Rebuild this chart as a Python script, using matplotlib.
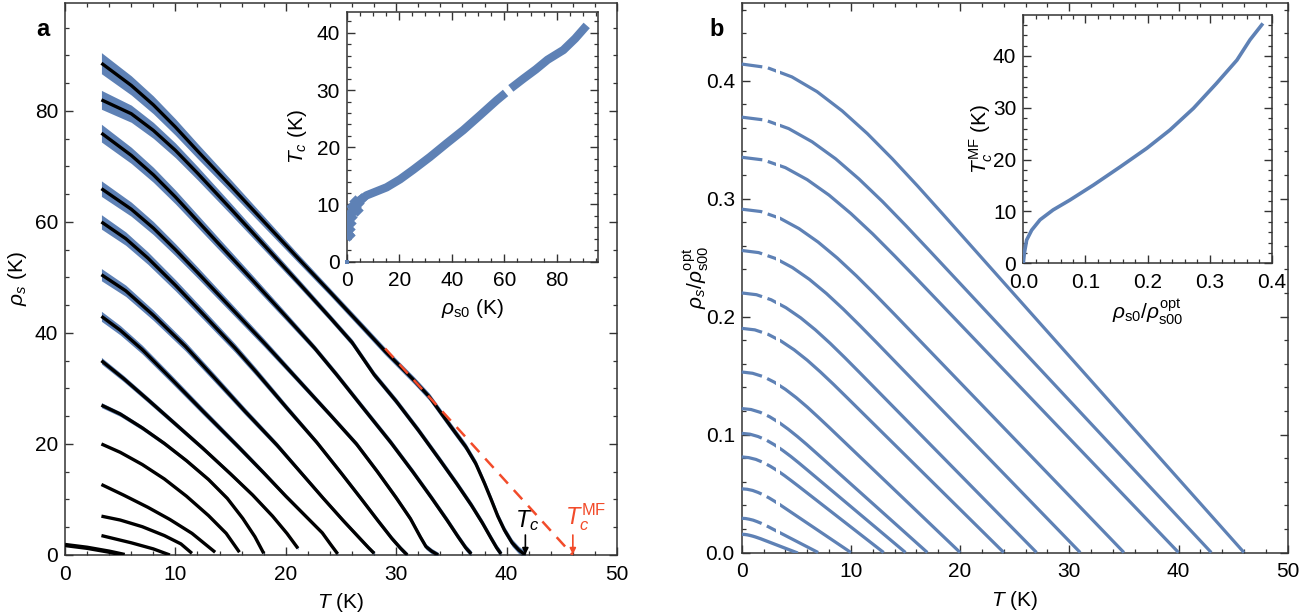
import numpy as np
import matplotlib
matplotlib.use('Agg')
import matplotlib.pyplot as plt
from matplotlib.patches import Rectangle
from matplotlib.ticker import MultipleLocator

plt.rcParams['font.family'] = ['Liberation Sans', 'DejaVu Sans']
plt.rcParams['mathtext.fontset'] = 'custom'
plt.rcParams['mathtext.rm'] = 'Liberation Sans'
plt.rcParams['mathtext.it'] = 'Liberation Sans:italic'
plt.rcParams['mathtext.bf'] = 'Liberation Sans:bold'

BLUE = '#5E81B5'
RED = '#F24B2A'
SPINE = '#333333'

# ---------------- Panel a data: rho_s(T) curves ----------------
a_T = [
    [3.3, 6, 8, 10, 12, 15, 18, 21, 24, 27, 29, 31.6, 33, 35, 36.3, 37.2, 38, 38.6, 39.2, 39.8, 40.5, 41.1, 41.7],
    [3.3, 6, 8, 10, 12, 15, 18, 21, 24, 26, 28, 30, 32, 34, 35.5, 36.8, 37.8, 38.6, 39.1, 39.5],
    [3.3, 6, 8, 10, 12, 14, 17, 20, 22.6, 24.6, 27, 29.5, 31.5, 33.2, 34.6, 35.6, 36.3, 36.8],
    [3.3, 6, 8, 10, 12, 15, 18, 21, 24, 26.4, 28.3, 30, 31.3, 32.2, 32.7, 33.2, 33.8],
    [3.3, 5.5, 7.5, 10, 12.5, 15.4, 17.3, 20, 22.8, 25, 26.8, 28.3, 29.6, 30.4, 31],
    [3.3, 5.5, 8, 10.9, 13.5, 16.3, 19.2, 21.3, 23.4, 25.2, 26.7, 27.5, 28],
    [3.3, 5, 7, 9.6, 12.5, 15.7, 18, 20, 22, 23.3, 24.1, 24.7],
    [3.3, 5.3, 7.5, 10, 12.5, 15, 17, 18.8, 20.1, 21.1],
    [3.3, 5, 7, 9, 11, 13, 14.7, 16.1, 17.2, 18],
    [3.3, 5, 7, 9, 11, 13, 14.6, 15.8],
    [3.3, 5.3, 7.5, 9.5, 11.5, 13.6],
    [3.3, 5, 7, 9, 10.5, 11.5],
    [3.3, 6, 8, 9.5],
    [0, 2, 4, 5.4],
]
a_rho = [
    [88.6, 84.6, 81.1, 77.1, 72.8, 66.5, 60.1, 53.7, 47.4, 41.0, 36.7, 31.5, 28.5, 23.0, 19.5, 16.5, 12.9, 10.0, 7.0, 4.5, 2.2, 0.9, 0.0],
    [82.0, 79.5, 76.5, 72.9, 68.8, 62.4, 55.9, 49.4, 42.8, 38.3, 32.5, 27.7, 22.5, 17.0, 12.8, 9.0, 5.8, 3.0, 1.3, 0.2],
    [76.0, 72.0, 68.5, 64.5, 60.2, 55.9, 49.5, 43.0, 37.3, 32.5, 26.5, 20.3, 15.0, 10.3, 6.3, 3.3, 1.3, 0.2],
    [66.0, 62.3, 58.9, 55.0, 50.9, 44.6, 38.3, 31.8, 25.3, 20.0, 15.0, 10.3, 6.5, 3.2, 1.5, 0.7, 0.0],
    [60.0, 57.0, 53.5, 48.6, 43.4, 37.3, 33.0, 26.7, 20.3, 14.8, 10.2, 6.3, 3.0, 1.2, 0.0],
    [50.5, 47.6, 43.2, 37.6, 32.0, 25.9, 19.8, 15.0, 10.2, 6.2, 3.0, 1.3, 0.3],
    [43.0, 40.5, 37.0, 31.8, 25.9, 19.5, 14.8, 10.6, 6.6, 4.0, 1.8, 0.2],
    [35.0, 31.8, 28.0, 23.6, 19.2, 14.6, 10.8, 7.0, 3.9, 1.2],
    [27.0, 25.4, 22.9, 20.1, 17.0, 13.6, 10.2, 6.6, 3.3, 0.3],
    [20.0, 18.5, 16.3, 13.7, 10.6, 7.1, 3.9, 0.5],
    [12.7, 10.8, 8.6, 6.4, 3.9, 0.5],
    [7.0, 6.3, 5.1, 3.5, 2.0, 0.3],
    [3.5, 2.2, 1.1, 0.0],
    [1.8, 1.3, 0.6, 0.0],
]
# half-width of the blue uncertainty band at the first point of each curve
a_band = [1.9, 1.7, 1.6, 1.4, 1.3, 1.1, 0.9, 0.6, 0.45, 0.0, 0.0, 0.0, 0.0, 0.0]

# dashed mean-field extrapolation and markers
mf_T = [29.0, 46.0]
mf_rho = [37.2, 0.0]
Tc_obs = 41.7
Tc_mf = 46.0

# inset a: Tc vs rho_s0
ia_rho0 = [0.3, 1.3, 2.5, 5.1, 7.6, 11.4, 15.2, 20.3, 25.4, 31.7, 38.1, 44.4, 50.8, 57.1, 60.5]
ia_Tc = [5.5, 7.9, 9.6, 10.8, 11.6, 12.3, 13.0, 14.4, 16.1, 18.3, 20.7, 23.0, 25.6, 28.2, 29.5]
ia_rho0_b = [62.5, 67.3, 72.0, 76.5, 82.5, 87.0, 91.4]
ia_Tc_b = [30.3, 32.0, 33.6, 35.3, 37.0, 39.0, 41.3]
ia_blob_x = [0.6, 0.9, 1.3, 1.8, 2.4, 3.2, 4.2, 5.5, 1.2, 2.0, 3.0, 4.0, 1.0, 0.6]
ia_blob_y = [4.8, 5.8, 6.8, 7.9, 8.8, 9.6, 10.3, 10.9, 8.5, 9.8, 10.6, 9.0, 4.6, 7.5]

# ---------------- Panel b data ----------------
b_T = [
    [0, 2.3, 4.6, 6.9, 9.2, 11.5, 13.8, 16.1, 18.4, 46],
    [0, 2.15, 4.3, 6.45, 8.6, 10.75, 12.9, 15.05, 17.2, 43],
    [0, 2, 4, 6, 8, 10, 12, 14, 16, 40],
    [0, 1.75, 3.5, 5.25, 7, 8.75, 10.5, 12.25, 14, 35],
    [0, 1.55, 3.1, 4.65, 6.2, 7.75, 9.3, 10.85, 12.4, 31],
    [0, 1.35, 2.7, 4.05, 5.4, 6.75, 8.1, 9.45, 10.8, 27],
    [0, 1.2, 2.4, 3.6, 4.8, 6.0, 7.2, 8.4, 9.6, 24],
    [0, 1, 2, 3, 4, 5, 6, 7, 8, 20],
    [0, 0.85, 1.7, 2.55, 3.4, 4.25, 5.1, 5.95, 6.8, 17],
    [0, 0.75, 1.5, 2.25, 3.0, 3.75, 4.5, 5.25, 6.0, 15],
    [0, 0.65, 1.3, 1.95, 2.6, 3.25, 3.9, 4.55, 5.2, 13],
    [0, 0.5, 1.0, 1.5, 2.0, 2.5, 3.0, 3.5, 4.0, 10],
    [0, 0.35, 0.7, 1.05, 1.4, 1.75, 2.1, 2.45, 2.8, 7],
    [0, 0.25, 0.5, 0.75, 1.0, 1.25, 1.5, 1.75, 2.0, 5],
]
b_rho = [
    [0.414, 0.4111, 0.4031, 0.3906, 0.3743, 0.3551, 0.3336, 0.3107, 0.2870, 0],
    [0.369, 0.3665, 0.3593, 0.3481, 0.3337, 0.3165, 0.2974, 0.2769, 0.2558, 0],
    [0.335, 0.3327, 0.3262, 0.3160, 0.3029, 0.2873, 0.2700, 0.2514, 0.2323, 0],
    [0.291, 0.2890, 0.2833, 0.2745, 0.2631, 0.2496, 0.2345, 0.2184, 0.2018, 0],
    [0.256, 0.2542, 0.2492, 0.2415, 0.2315, 0.2196, 0.2063, 0.1921, 0.1775, 0],
    [0.220, 0.2185, 0.2142, 0.2075, 0.1989, 0.1887, 0.1773, 0.1651, 0.1525, 0],
    [0.190, 0.1887, 0.1850, 0.1792, 0.1718, 0.1630, 0.1531, 0.1426, 0.1317, 0],
    [0.153, 0.1519, 0.1490, 0.1443, 0.1383, 0.1312, 0.1233, 0.1148, 0.1061, 0],
    [0.122, 0.1212, 0.1188, 0.1151, 0.1103, 0.1046, 0.0983, 0.0916, 0.0846, 0],
    [0.101, 0.1003, 0.0983, 0.0953, 0.0913, 0.0866, 0.0814, 0.0758, 0.0700, 0],
    [0.081, 0.0804, 0.0789, 0.0764, 0.0732, 0.0695, 0.0653, 0.0608, 0.0562, 0],
    [0.054, 0.0536, 0.0526, 0.0509, 0.0488, 0.0463, 0.0435, 0.0405, 0.0374, 0],
    [0.029, 0.0288, 0.0282, 0.0274, 0.0262, 0.0249, 0.0234, 0.0218, 0.0201, 0],
    [0.0154, 0.0153, 0.0150, 0.0145, 0.0139, 0.0132, 0.0124, 0.0116, 0.0107, 0],
]
T_data_start = 3.5  # below this, curves are extrapolated (dashed)

# inset b: Tc^MF vs rho_s0/rho_s00^opt
ib_x = [0, 0.0016, 0.0054, 0.0135, 0.027, 0.048, 0.075, 0.113, 0.156, 0.199, 0.236, 0.274, 0.311, 0.344, 0.365, 0.384]
ib_y = [0, 1.9, 4.5, 6.4, 8.4, 10.3, 12.2, 15.1, 18.6, 22.2, 25.7, 29.9, 34.7, 39.2, 43.1, 46.0]

# ---------------- figure ----------------
W, H = 1306, 616
FS = 15
fig = plt.figure(figsize=(W / 100, H / 100), dpi=100)


def box(l, t, r, b):
    return [l / W, 1 - b / H, (r - l) / W, (b - t) / H]


def style(ax, fs=FS):
    for s in ax.spines.values():
        s.set_color(SPINE)
        s.set_linewidth(1.1)
    ax.tick_params(which='both', direction='in', top=True, right=True,
                   colors=SPINE, labelcolor='black', labelsize=fs)
    ax.tick_params(which='major', length=6, width=1)
    ax.tick_params(which='minor', length=3, width=0.9)
    ax.tick_params(axis='x', which='both', pad=7)
    ax.tick_params(axis='y', which='both', pad=5)


# ---- panel a ----
axa = fig.add_axes(box(65, 2.7, 617, 555))
style(axa)
for T, r, e0 in zip(a_T, a_rho, a_band):
    T = np.asarray(T, float)
    r = np.asarray(r, float)
    if e0 > 0:
        err = e0 * np.clip(1 - (T - T[0]) / 30.0, 0.35, 1)
        axa.fill_between(T, r - err, r + err, color=BLUE, lw=0, zorder=2)
    lw = 3.2 if T[0] == 0 else 2.4
    axa.plot(T, r, color='black', lw=lw, zorder=3, solid_capstyle='butt', solid_joinstyle='round')
axa.plot(mf_T, mf_rho, color=RED, lw=1.8, ls=(0, (5, 3.5)), zorder=4)
axa.annotate('', xy=(Tc_obs, 0.1), xytext=(Tc_obs, 3.6),
             arrowprops=dict(arrowstyle='-|>', color='black', lw=1.2, mutation_scale=9, shrinkA=0, shrinkB=0), zorder=5)
axa.text(Tc_obs + 0.2, 4.0, r'$T_c$', fontsize=17, ha='center', va='bottom', color='black')
axa.annotate('', xy=(Tc_mf, 0.1), xytext=(Tc_mf, 3.6),
             arrowprops=dict(arrowstyle='-|>', color=RED, lw=1.2, mutation_scale=9, shrinkA=0, shrinkB=0), zorder=5)
axa.text(Tc_mf - 0.7, 4.0, r'$T_c^{\mathrm{MF}}$', fontsize=17, ha='left', va='bottom', color=RED)
axa.set_xlim(0, 50)
axa.set_ylim(0, 99.5)
axa.xaxis.set_major_locator(MultipleLocator(10))
axa.xaxis.set_minor_locator(MultipleLocator(2))
axa.yaxis.set_major_locator(MultipleLocator(20))
axa.yaxis.set_minor_locator(MultipleLocator(5))
axa.set_xlabel(r'$T$ (K)', fontsize=FS)
axa.set_ylabel(r'$\rho_s$ (K)', fontsize=FS)
axa.xaxis.set_label_coords(0.5, -0.066)
axa.yaxis.set_label_coords(-0.066, 0.5)

# inset a
ia = fig.add_axes(box(346.7, 11.7, 598, 261.7))
style(ia)
ia.plot(ia_rho0, ia_Tc, color=BLUE, lw=6.0, solid_capstyle='butt', solid_joinstyle='round', zorder=3)
ia.plot(ia_rho0_b, ia_Tc_b, color=BLUE, lw=6.0, solid_capstyle='butt', solid_joinstyle='round', zorder=3)
ia.scatter(ia_blob_x, ia_blob_y, marker='D', s=40, color=BLUE, lw=0, zorder=3)
ia.scatter([0], [0], marker='s', s=10, color=BLUE, lw=0, zorder=3, clip_on=False)
ia.set_xlim(0, 95.7)
ia.set_ylim(0, 43.7)
ia.xaxis.set_major_locator(MultipleLocator(20))
ia.xaxis.set_minor_locator(MultipleLocator(5))
ia.yaxis.set_major_locator(MultipleLocator(10))
ia.yaxis.set_minor_locator(MultipleLocator(2))
ia.set_xlabel(r'$\rho_{\mathrm{s0}}$ (K)', fontsize=FS)
ia.set_ylabel(r'$T_c$ (K)', fontsize=FS)
ia.xaxis.set_label_coords(0.5, -0.14)
ia.yaxis.set_label_coords(-0.15, 0.5)

# ---- panel b ----
axb = fig.add_axes(box(741.7, 2.7, 1287.7, 552.5))
style(axb)
for i, (T, r) in enumerate(zip(b_T, b_rho)):
    if i == len(b_T) - 1:
        axb.plot(T, r, color=BLUE, lw=2.4, zorder=3, solid_joinstyle='round')
        continue
    solid, = axb.plot(T, r, color=BLUE, lw=2.3, zorder=3, solid_capstyle='butt', solid_joinstyle='round')
    solid.set_clip_path(Rectangle((T_data_start, -1), 100, 3, transform=axb.transData))
    dashed, = axb.plot(T, r, color=BLUE, lw=2.3, zorder=3, ls=(0, (6.5, 1.8)), dash_capstyle='butt')
    dashed.set_clip_path(Rectangle((-1, -1), 1 + T_data_start - 0.35, 3, transform=axb.transData))
axb.set_xlim(0, 50)
axb.set_ylim(0, 0.466)
axb.xaxis.set_major_locator(MultipleLocator(10))
axb.xaxis.set_minor_locator(MultipleLocator(2))
axb.yaxis.set_major_locator(MultipleLocator(0.1))
axb.yaxis.set_minor_locator(MultipleLocator(0.02))
axb.set_xlabel(r'$T$ (K)', fontsize=FS)
axb.set_ylabel(r'$\rho_s/\rho_{\mathrm{s00}}^{\mathrm{opt}}$', fontsize=FS)
axb.xaxis.set_label_coords(0.5, -0.066)
axb.yaxis.set_label_coords(-0.056, 0.5)

# inset b
ib = fig.add_axes(box(1023.3, 15, 1271.7, 263.3))
style(ib)
ib.plot(ib_x, ib_y, color=BLUE, lw=2.6, zorder=3)
ib.set_xlim(0, 0.4)
ib.set_ylim(0, 47.9)
ib.xaxis.set_major_locator(MultipleLocator(0.1))
ib.xaxis.set_minor_locator(MultipleLocator(0.02))
ib.yaxis.set_major_locator(MultipleLocator(10))
ib.yaxis.set_minor_locator(MultipleLocator(2))
ib.set_xlabel(r'$\rho_{\mathrm{s0}}/\rho_{\mathrm{s00}}^{\mathrm{opt}}$', fontsize=FS)
ib.set_ylabel(r'$T_c^{\mathrm{MF}}$ (K)', fontsize=FS)
ib.xaxis.set_label_coords(0.5, -0.14)
ib.yaxis.set_label_coords(-0.115, 0.5)

fig.text(43 / W, 1 - 30 / H, 'a', fontsize=17, fontweight='bold', ha='center', va='center')
fig.text(717 / W, 1 - 30 / H, 'b', fontsize=17, fontweight='bold', ha='center', va='center')

fig.savefig('out.png', dpi=100)
